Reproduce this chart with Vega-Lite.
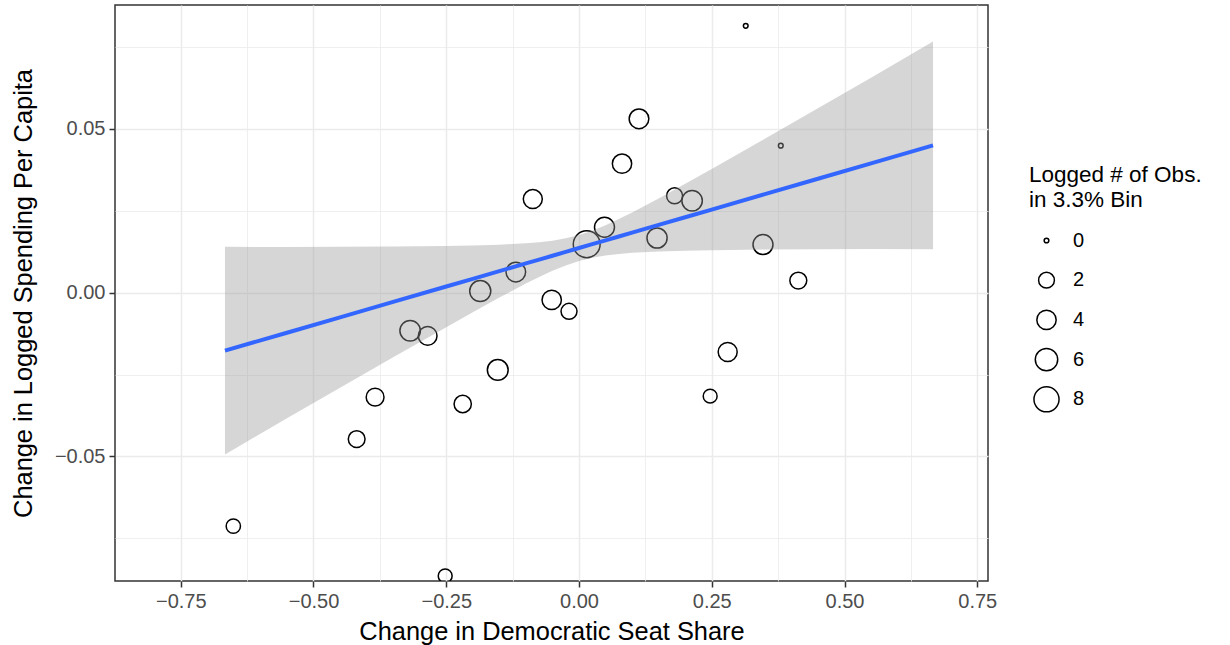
{
  "$schema": "https://vega.github.io/schema/vega-lite/v6.json",
  "width": 873,
  "height": 576,
  "autosize": {"type": "none"},
  "padding": {"left": 115, "top": 5, "right": 242, "bottom": 64},
  "background": "white",
  "config": {
    "font": "Liberation Sans",
    "view": {"stroke": "#333333", "strokeWidth": 1.5},
    "axis": {
      "domain": false,
      "grid": true,
      "gridColor": "#EBEBEB",
      "tickColor": "#333333",
      "tickSize": 6,
      "tickWidth": 1.5,
      "labelFont": "Liberation Sans",
      "labelFontSize": 20,
      "labelColor": "#4D4D4D",
      "labelOverlap": false,
      "labelFlush": false,
      "titleFont": "Liberation Sans",
      "titleFontSize": 25.4,
      "titleFontWeight": "normal",
      "titleColor": "black"
    }
  },
  "datasets": {
    "pts": [
      {"x": 0.314, "y": 0.0815, "n": 0},
      {"x": 0.380, "y": 0.0449, "n": 0},
      {"x": 0.113, "y": 0.0531, "n": 4.2},
      {"x": 0.081, "y": 0.0394, "n": 4.0},
      {"x": -0.087, "y": 0.0286, "n": 3.8},
      {"x": 0.180, "y": 0.0296, "n": 2.1},
      {"x": 0.213, "y": 0.0281, "n": 4.7},
      {"x": 0.048, "y": 0.0200, "n": 4.4},
      {"x": 0.0145, "y": 0.0148, "n": 9.5},
      {"x": 0.147, "y": 0.0167, "n": 4.5},
      {"x": 0.3465, "y": 0.0147, "n": 4.4},
      {"x": -0.119, "y": 0.0063, "n": 4.2},
      {"x": -0.186, "y": 0.0005, "n": 5.1},
      {"x": 0.413, "y": 0.0037, "n": 2.6},
      {"x": -0.0514, "y": -0.0022, "n": 4.0},
      {"x": -0.0188, "y": -0.0057, "n": 2.1},
      {"x": -0.318, "y": -0.0116, "n": 4.7},
      {"x": -0.285, "y": -0.0132, "n": 3.6},
      {"x": 0.280, "y": -0.0181, "n": 3.8},
      {"x": -0.153, "y": -0.0236, "n": 4.9},
      {"x": -0.384, "y": -0.0319, "n": 3.1},
      {"x": 0.247, "y": -0.0316, "n": 1.5},
      {"x": -0.219, "y": -0.0340, "n": 2.8},
      {"x": -0.4187, "y": -0.0447, "n": 2.5},
      {"x": -0.651, "y": -0.0713, "n": 1.6},
      {"x": -0.252, "y": -0.0865, "n": 1.5}
    ],
    "fit": [
      {"x": -0.6667, "fit": -0.01770, "lo": -0.0494, "hi": 0.0140},
      {"x": -0.55, "fit": -0.01222, "lo": -0.03837, "hi": 0.01393},
      {"x": -0.45, "fit": -0.007515, "lo": -0.029035, "hi": 0.014005},
      {"x": -0.35, "fit": -0.002814, "lo": -0.019737, "hi": 0.014109},
      {"x": -0.25, "fit": 0.001887, "lo": -0.010515, "hi": 0.014289},
      {"x": -0.2, "fit": 0.004238, "lo": -0.005966, "hi": 0.014442},
      {"x": -0.15, "fit": 0.006588, "lo": -0.001503, "hi": 0.014679},
      {"x": -0.1, "fit": 0.008939, "lo": 0.002787, "hi": 0.015091},
      {"x": -0.075, "fit": 0.010114, "lo": 0.004805, "hi": 0.015423},
      {"x": -0.05, "fit": 0.011290, "lo": 0.006677, "hi": 0.015903},
      {"x": -0.025, "fit": 0.012465, "lo": 0.008325, "hi": 0.016605},
      {"x": 0, "fit": 0.01364, "lo": 0.00967, "hi": 0.01761},
      {"x": 0.025, "fit": 0.014815, "lo": 0.010675, "hi": 0.018955},
      {"x": 0.05, "fit": 0.015991, "lo": 0.011378, "hi": 0.020604},
      {"x": 0.075, "fit": 0.017166, "lo": 0.011857, "hi": 0.022475},
      {"x": 0.1, "fit": 0.018341, "lo": 0.012189, "hi": 0.024493},
      {"x": 0.15, "fit": 0.020692, "lo": 0.012601, "hi": 0.028783},
      {"x": 0.2, "fit": 0.023042, "lo": 0.012838, "hi": 0.033246},
      {"x": 0.25, "fit": 0.025393, "lo": 0.012991, "hi": 0.037795},
      {"x": 0.35, "fit": 0.030094, "lo": 0.013171, "hi": 0.047017},
      {"x": 0.45, "fit": 0.034795, "lo": 0.013275, "hi": 0.056315},
      {"x": 0.55, "fit": 0.039496, "lo": 0.013346, "hi": 0.065646},
      {"x": 0.6667, "fit": 0.045, "lo": 0.0133, "hi": 0.0767}
    ]
  },
  "encoding": {
    "x": {
      "field": "x",
      "type": "quantitative",
      "scale": {"domain": [-0.87382, 0.77024], "nice": false, "zero": false},
      "axis": {
        "title": "Change in Democratic Seat Share",
        "values": [-0.75, -0.625, -0.5, -0.375, -0.25, -0.125, 0, 0.125, 0.25, 0.375, 0.5, 0.625, 0.75],
        "labelExpr": "abs(datum.value*4-round(datum.value*4))<1e-6 ? format(datum.value, '.2f') : ''",
        "gridWidth": {"condition": {"test": "abs(datum.value*4-round(datum.value*4))<1e-6", "value": 1.5}, "value": 0.8},
        "tickOpacity": {"condition": {"test": "abs(datum.value*4-round(datum.value*4))<1e-6", "value": 1}, "value": 0},
        "labelPadding": 4,
        "titlePadding": 8
      }
    }
  },
  "layer": [
    {
      "data": {"name": "pts"},
      "mark": {"type": "point", "shape": "circle", "filled": false, "color": "black", "strokeWidth": 1.5, "opacity": 1, "clip": true},
      "encoding": {
        "y": {
          "field": "y",
          "type": "quantitative",
          "scale": {"domain": [-0.088058, 0.087874], "nice": false, "zero": false},
          "axis": {
            "title": "Change in Logged Spending Per Capita",
            "values": [-0.075, -0.05, -0.025, 0, 0.025, 0.05, 0.075],
            "labelExpr": "abs(datum.value*20-round(datum.value*20))<1e-6 ? format(datum.value, '.2f') : ''",
            "gridWidth": {"condition": {"test": "abs(datum.value*20-round(datum.value*20))<1e-6", "value": 1.5}, "value": 0.8},
            "tickOpacity": {"condition": {"test": "abs(datum.value*20-round(datum.value*20))<1e-6", "value": 1}, "value": 0},
            "labelPadding": 4,
            "titlePadding": 18
          }
        },
        "size": {
          "field": "n",
          "type": "quantitative",
          "scale": {"domain": [0, 2, 4, 6, 8, 10], "range": [22, 249, 373, 503, 629, 750]},
          "legend": {
            "title": ["Logged # of Obs.", "in 3.3% Bin"],
            "orient": "none",
            "legendX": 914,
            "legendY": 159,
            "values": [0, 2, 4, 6, 8],
            "titleFont": "Liberation Sans",
            "titleFontSize": 22.5,
            "titleFontWeight": "normal",
            "titleColor": "black",
            "titleLineHeight": 25,
            "titlePadding": 13,
            "titleLimit": 400,
            "labelFont": "Liberation Sans",
            "labelFontSize": 20,
            "labelColor": "black",
            "labelOffset": 13,
            "labelLimit": 200,
            "symbolType": "circle",
            "symbolStrokeColor": "black",
            "symbolFillColor": "transparent",
            "symbolStrokeWidth": 1.5,
            "symbolOpacity": 1,
            "symbolOffset": 4,
            "clipHeight": 32,
            "rowPadding": 7.7
          }
        }
      }
    },
    {
      "data": {"name": "fit"},
      "mark": {"type": "area", "color": "#999999", "opacity": 0.4},
      "encoding": {
        "y": {"field": "lo", "type": "quantitative"},
        "y2": {"field": "hi"}
      }
    },
    {
      "data": {"name": "fit"},
      "mark": {"type": "line", "color": "#3366FF", "strokeWidth": 4},
      "encoding": {
        "y": {"field": "fit", "type": "quantitative"}
      }
    }
  ]
}
